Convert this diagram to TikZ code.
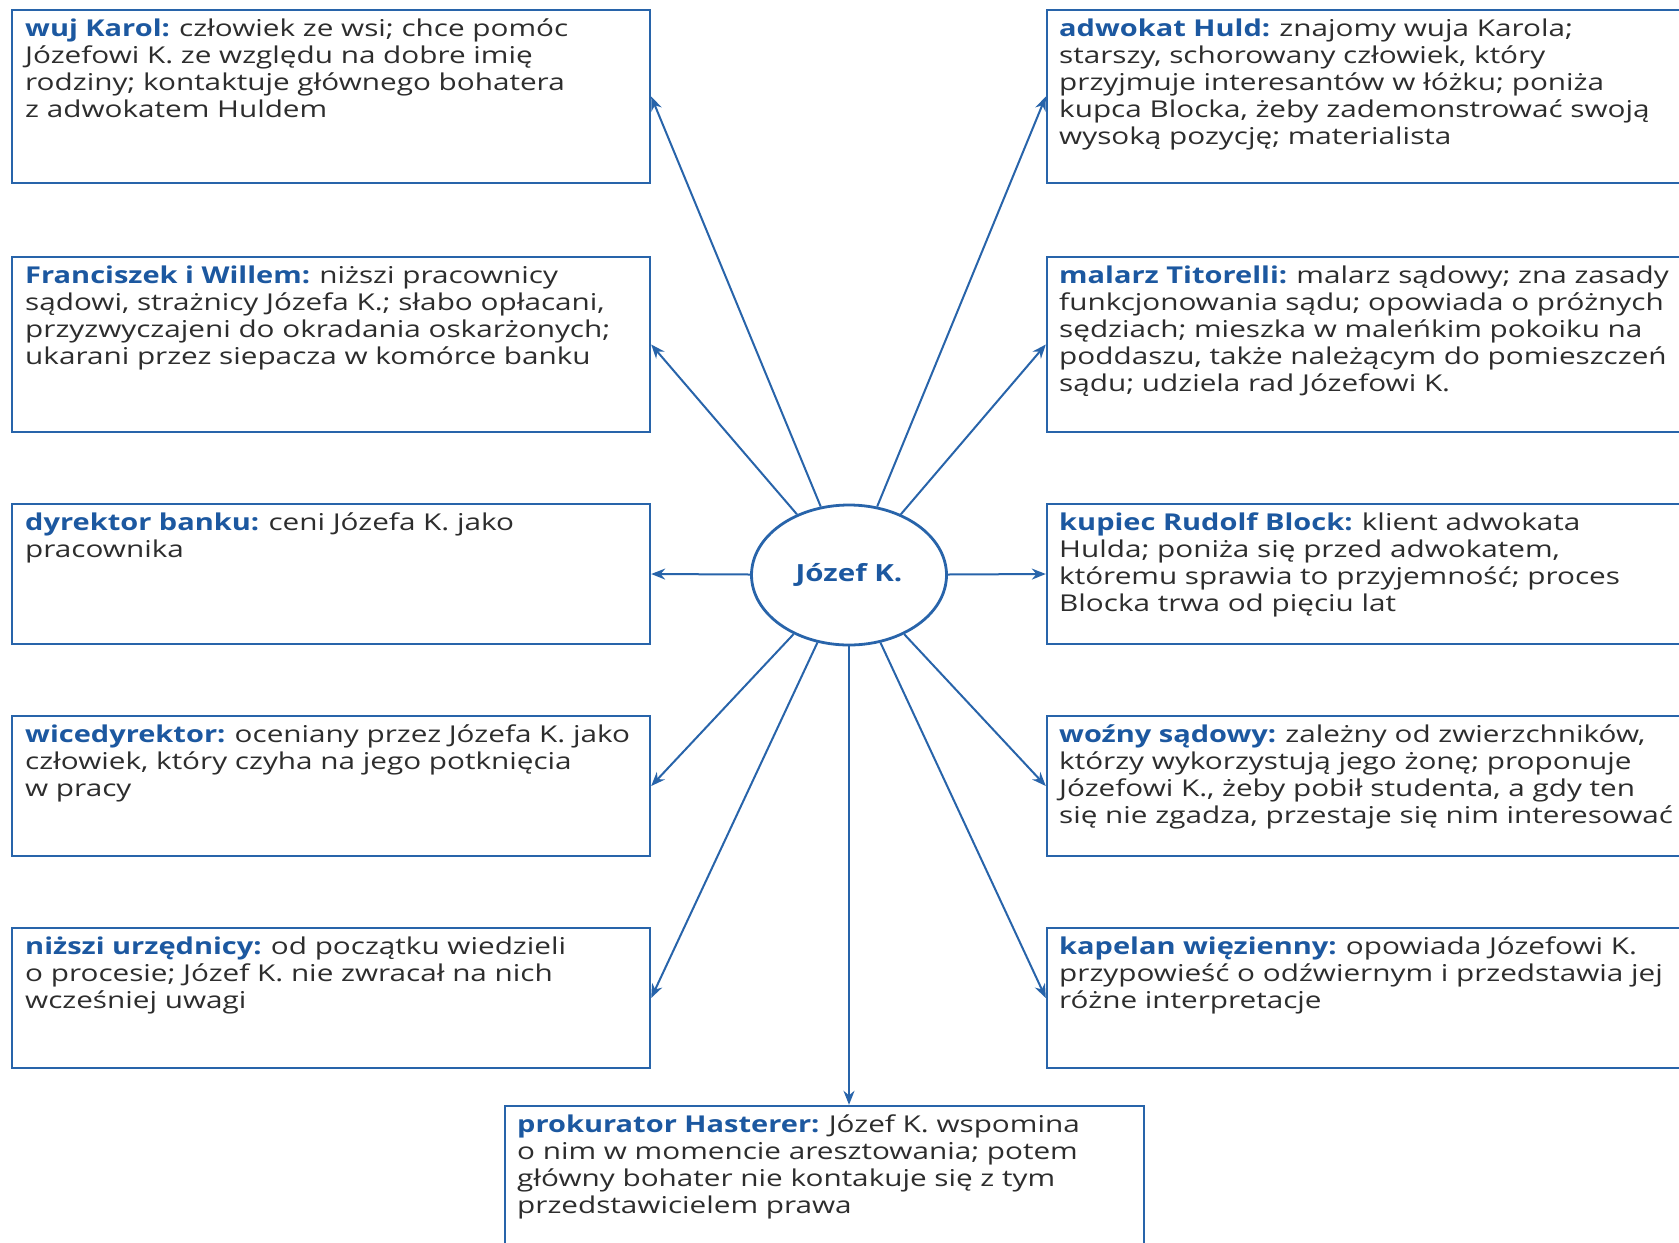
\documentclass[tikz,border=0pt]{standalone}
\usepackage{fontspec}
\setmainfont{Open Sans}[FakeStretch=1.28, BoldFeatures={FakeStretch=1.25}]
\usetikzlibrary{arrows.meta,shapes.geometric,fit}
\definecolor{lineblue}{RGB}{40,100,170}
\definecolor{headblue}{RGB}{28,88,160}
\definecolor{bodygray}{RGB}{45,45,45}
\newcommand\hd[1]{\textcolor{headblue}{\bfseries #1}\hspace{-0.5pt}}
\tikzset{
  boxframe/.style={draw=lineblue, line width=1.2pt, inner sep=0pt, rectangle},
  boxtext/.style={anchor=north west, inner sep=0pt, align=left, text=bodygray,
    font=\fontsize{11.6}{13.5}\selectfont},
  conn/.style={draw=lineblue, line width=1pt, -{Stealth[length=7pt,width=5.5pt]}},
  center/.style={ellipse, draw=lineblue, line width=1.4pt, fill=white,
    minimum width=97.5pt, minimum height=70pt, inner sep=0pt,
    font=\fontsize{11.8}{14}\selectfont\bfseries, text=headblue}
}
\begin{document}
\begin{tikzpicture}[x=0.5pt,y=-0.5pt]
\useasboundingbox (0,0) rectangle (1679,1242);
\clip (0,0) rectangle (1679,1242);
\fill[white] (0,0) rectangle (1679,1242);

% left boxes
\node[boxframe, fit={(12,10) (650,183)}] (wk) {};
\node[boxframe, fit={(12,257) (650,432)}] (fw) {};
\node[boxframe, fit={(12,504) (650,644)}] (db) {};
\node[boxframe, fit={(12,716) (650,856)}] (wd) {};
\node[boxframe, fit={(12,928) (650,1068)}] (nu) {};
% right boxes
\node[boxframe, fit={(1047,10) (1695,183)}] (ah) {};
\node[boxframe, fit={(1047,257) (1695,432)}] (mt) {};
\node[boxframe, fit={(1047,504) (1695,644)}] (rb) {};
\node[boxframe, fit={(1047,716) (1695,856)}] (ws) {};
\node[boxframe, fit={(1047,928) (1695,1068)}] (kw) {};
% bottom box
\node[boxframe, fit={(505,1106) (1144,1260)}] (ph) {};

% texts
\node[boxtext] at ([shift={(7pt,-5pt)}]wk.north west) {\hd{wuj Karol:} człowiek ze wsi; chce pomóc\\Józefowi K. ze względu na dobre imię\\rodziny; kontaktuje głównego bohatera\\z adwokatem Huldem};
\node[boxtext] at ([shift={(7pt,-5pt)}]fw.north west) {\hd{Franciszek i Willem:} niższi pracownicy\\sądowi, strażnicy Józefa K.; słabo opłacani,\\przyzwyczajeni do okradania oskarżonych;\\ukarani przez siepacza w komórce banku};
\node[boxtext] at ([shift={(7pt,-5pt)}]db.north west) {\hd{dyrektor banku:} ceni Józefa K. jako\\pracownika};
\node[boxtext] at ([shift={(7pt,-5pt)}]wd.north west) {\hd{wicedyrektor:} oceniany przez Józefa K. jako\\człowiek, który czyha na jego potknięcia\\w pracy};
\node[boxtext] at ([shift={(7pt,-5pt)}]nu.north west) {\hd{niższi urzędnicy:} od początku wiedzieli\\o procesie; Józef K. nie zwracał na nich\\wcześniej uwagi};

\node[boxtext] at ([shift={(6.5pt,-5pt)}]ah.north west) {\hd{adwokat Huld:} znajomy wuja Karola;\\starszy, schorowany człowiek, który\\przyjmuje interesantów w łóżku; poniża\\kupca Blocka, żeby zademonstrować swoją\\wysoką pozycję; materialista};
\node[boxtext] at ([shift={(6.5pt,-5pt)}]mt.north west) {\hd{malarz Titorelli:} malarz sądowy; zna zasady\\funkcjonowania sądu; opowiada o próżnych\\sędziach; mieszka w maleńkim pokoiku na\\poddaszu, także należącym do pomieszczeń\\sądu; udziela rad Józefowi K.};
\node[boxtext] at ([shift={(6.5pt,-5pt)}]rb.north west) {\hd{kupiec Rudolf Block:} klient adwokata\\Hulda; poniża się przed adwokatem,\\któremu sprawia to przyjemność; proces\\Blocka trwa od pięciu lat};
\node[boxtext] at ([shift={(6.5pt,-5pt)}]ws.north west) {\hd{woźny sądowy:} zależny od zwierzchników,\\którzy wykorzystują jego żonę; proponuje\\Józefowi K., żeby pobił studenta, a gdy ten\\się nie zgadza, przestaje się nim interesować};
\node[boxtext] at ([shift={(6.5pt,-5pt)}]kw.north west) {\hd{kapelan więzienny:} opowiada Józefowi K.\\przypowieść o odźwiernym i przedstawia jej\\różne interpretacje};

\node[boxtext] at ([shift={(6.5pt,-5pt)}]ph.north west) {\hd{prokurator Hasterer:} Józef K. wspomina\\o nim w momencie aresztowania; potem\\główny bohater nie kontakuje się z tym\\przedstawicielem prawa};

% center
\node[center] (J) at (849,575) {Józef K.};
\coordinate (phtop) at (J.south |- ph.north);

% connectors
\foreach \t in {wk,fw,db,wd,nu} \draw[conn] (J) -- (\t.east);
\foreach \t in {ah,mt,rb,ws,kw} \draw[conn] (J) -- (\t.west);
\draw[conn] (J) -- (phtop);
\end{tikzpicture}
\end{document}
